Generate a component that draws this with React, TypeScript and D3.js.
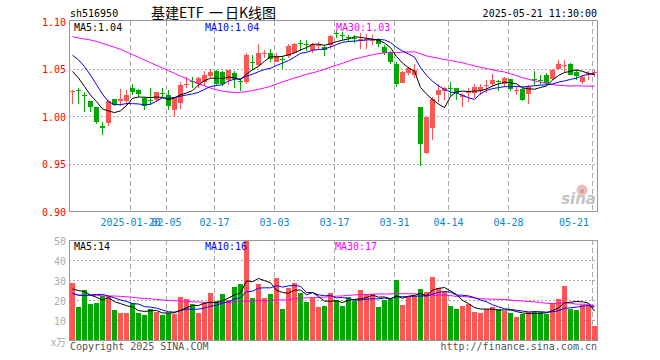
import { useEffect, useRef } from 'react';
import * as d3 from 'd3';

// 交易日 (2025)
const dates = [
  '01-06','01-07','01-08','01-09','01-10','01-13','01-14','01-15','01-16','01-17',
  '01-20','01-21','01-22','01-23','01-24','01-27','02-05','02-06','02-07','02-10',
  '02-11','02-12','02-13','02-14','02-17','02-18','02-19','02-20','02-21','02-24',
  '02-25','02-26','02-27','02-28','03-03','03-04','03-05','03-06','03-07','03-10',
  '03-11','03-12','03-13','03-14','03-17','03-18','03-19','03-20','03-21','03-24',
  '03-25','03-26','03-27','03-28','03-31','04-01','04-02','04-03','04-07','04-08',
  '04-09','04-10','04-11','04-14','04-15','04-16','04-17','04-18','04-21','04-22',
  '04-23','04-24','04-25','04-28','04-29','04-30','05-06','05-07','05-08','05-09',
  '05-12','05-13','05-14','05-15','05-16','05-19','05-20','05-21',
];

const open = [
  1.025,1.027,1.022,1.016,1.009,0.990,0.993,1.018,1.016,1.016,
  1.029,1.027,1.019,1.017,1.017,1.024,1.022,1.006,1.014,1.033,
  1.037,1.034,1.036,1.042,1.047,1.046,1.038,1.045,1.037,1.036,
  1.057,1.054,1.065,1.066,1.057,1.060,1.063,1.066,1.077,1.076,
  1.070,1.074,1.073,1.075,1.087,1.085,1.083,1.082,1.080,1.080,
  1.079,1.081,1.073,1.066,1.055,1.035,1.045,1.043,1.010,0.961,
  0.987,1.022,1.026,1.030,1.029,1.020,1.024,1.024,1.026,1.032,
  1.034,1.037,1.034,1.039,1.026,1.028,1.023,1.039,1.038,1.043,
  1.039,1.050,1.053,1.055,1.046,1.036,1.044,1.045,
];
const high = [
  1.027,1.030,1.025,1.016,1.009,0.994,1.017,1.018,1.028,1.027,
  1.034,1.028,1.020,1.029,1.025,1.029,1.027,1.020,1.036,1.041,
  1.041,1.041,1.047,1.050,1.048,1.047,1.048,1.047,1.040,1.066,
  1.064,1.076,1.069,1.071,1.066,1.063,1.076,1.077,1.080,1.080,
  1.077,1.078,1.075,1.085,1.090,1.088,1.085,1.085,1.087,1.086,
  1.085,1.082,1.075,1.068,1.057,1.047,1.052,1.055,1.010,0.999,
  1.020,1.034,1.031,1.036,1.029,1.024,1.029,1.034,1.034,1.038,
  1.044,1.038,1.041,1.039,1.031,1.029,1.033,1.047,1.043,1.045,
  1.049,1.059,1.059,1.056,1.048,1.043,1.047,1.048,
];
const low = [
  1.013,1.013,1.004,1.004,0.992,0.980,0.989,1.011,1.011,1.011,
  1.022,1.020,1.006,1.012,1.015,1.020,1.006,0.999,1.007,1.030,
  1.030,1.030,1.032,1.040,1.033,1.032,1.033,1.029,1.026,1.034,
  1.048,1.052,1.061,1.057,1.057,1.050,1.061,1.066,1.068,1.068,
  1.066,1.070,1.063,1.071,1.082,1.080,1.078,1.077,1.071,1.071,
  1.075,1.073,1.064,1.055,1.031,1.035,1.043,1.040,0.947,0.960,
  0.975,1.015,1.017,1.021,1.017,1.010,1.015,1.019,1.022,1.024,
  1.031,1.026,1.031,1.026,1.022,1.016,1.013,1.033,1.033,1.033,
  1.038,1.048,1.045,1.043,1.038,1.034,1.038,1.041,
];
const close = [
  1.026,1.026,1.021,1.009,0.994,0.987,1.016,1.012,1.018,1.022,
  1.025,1.023,1.011,1.016,1.025,1.023,1.011,1.020,1.033,1.034,
  1.036,1.040,1.043,1.046,1.034,1.034,1.048,1.039,1.036,1.064,
  1.056,1.066,1.066,1.060,1.063,1.059,1.074,1.076,1.076,1.075,
  1.076,1.075,1.070,1.084,1.086,1.084,1.082,1.081,1.081,1.081,
  1.080,1.076,1.066,1.057,1.034,1.046,1.051,1.048,0.971,0.999,
  1.018,1.027,1.029,1.029,1.024,1.022,1.025,1.031,1.031,1.033,
  1.038,1.036,1.040,1.028,1.027,1.017,1.031,1.038,1.037,1.035,
  1.048,1.055,1.054,1.043,1.042,1.041,1.045,1.046,
];
// 成交量 (万)
const volume = [
  28.7,16.4,25,18.1,18.6,22,22,14.9,13.5,13.5,
  18.4,13.5,12.4,15.4,14,12.4,13.4,12.9,21.5,20.5,
  17.9,13.5,18.6,23.6,19.6,23.1,20,26.5,28.2,50,
  21,28.2,21,23,31.2,15.4,26.2,28.7,23.6,19.1,
  21,16.4,16.9,23.6,20,16.9,21.6,19.6,25,23,
  23,16.6,20,20.5,30,17.4,21.6,22,25.5,24,
  31.6,26,24,16.9,15.4,16.9,17.9,13.9,13.4,15.4,
  16.4,15.4,14.5,13.4,11.4,12.9,13.9,14.4,13.9,12.9,
  18.4,20.5,27,15.6,14.9,17.4,17.4,6.8,
];

// 均线在窗口填满之前的值（更早的K线不在图内，按图读出）
const ma5Lead = [1.047, 1.040, 1.031, 1.022];
const ma10Lead = [1.064, 1.059, 1.052, 1.043, 1.033, 1.023, 1.015, 1.012, 1.012];
const ma30Lead = [
  1.0835,1.0821,1.0811,1.0800,1.0786,1.0765,1.0744,1.0723,1.0702,1.0674,
  1.0646,1.0618,1.0589,1.0561,1.0533,1.0505,1.0477,1.0449,1.0421,1.0393,
  1.0365,1.0340,1.0316,1.0295,1.0275,1.0262,1.0252,1.0248,1.0250,
];
const vma5Lead = [25.5, 24.7, 24.2, 22.5];
const vma10Lead = [23.3, 22.3, 22.3, 22.5, 22.8, 22.8, 22.0, 21.1, 20.0];
const vma30Lead = [
  23.3,22.5,22.3,22.3,22.3,22.1,22.0,22.0,21.8,21.6,
  21.3,21.0,20.8,20.6,20.3,20.0,19.8,19.6,19.5,19.3,
  19.1,19.0,18.8,18.8,18.6,18.6,18.8,19.0,19.1,
];

const priceTicks = [1.10, 1.05, 1.00, 0.95, 0.90];
const volTicks = [50, 40, 30, 20, 10];
const dateTicks = ['01-20','02-05','02-17','03-03','03-17','03-31','04-14','04-28','05-21'];

const RED = '#ff5555';
const GREEN = '#00a800';
const MONO = '"DejaVu Sans Mono", monospace';
const CJK = '"Noto Sans CJK SC", sans-serif';

function movingAvg(vals: number[], n: number, lead: number[]) {
  return vals.map((_, i) => (i < n - 1 ? lead[i] : (d3.mean(vals.slice(i - n + 1, i + 1)) as number)));
}

export default function App() {
  const svgRef = useRef<SVGSVGElement | null>(null);

  useEffect(() => {
    const svg = d3.select(svgRef.current);
    svg.selectAll('*').remove();

    const left = 69, right = 597;
    const mTop = 21, mBot = 211;
    const vTop = 240, vBot = 340;

    // 每根K线占 6px，柱宽 5px
    const x = d3.scaleBand<string>().domain(dates).range([70, 70 + dates.length * 6]);
    const bx = (d: string) => Math.round(x(d) as number);
    const y = d3.scaleLinear().domain([0.9, 1.1]).range([mBot, mTop]);
    const yv = d3.scaleLinear().domain([0, 50]).range([vBot, vTop]);

    svg.append('rect').attr('width', 660).attr('height', 360).attr('fill', '#fff');

    // ── 网格 ───────────────────────────────
    const grid = svg.append('g').attr('shape-rendering', 'crispEdges');
    priceTicks.slice(1, -1).forEach(t => {
      grid.append('line').attr('x1', left).attr('x2', right)
        .attr('y1', Math.round(y(t)) + 0.5).attr('y2', Math.round(y(t)) + 0.5)
        .attr('stroke', '#aaa').attr('stroke-dasharray', '2,2');
    });
    volTicks.slice(1).forEach(t => {
      grid.append('line').attr('x1', left).attr('x2', right)
        .attr('y1', Math.round(yv(t)) + 0.5).attr('y2', Math.round(yv(t)) + 0.5)
        .attr('stroke', '#aaa').attr('stroke-dasharray', '2,2');
    });
    dateTicks.forEach(d => {
      const gx = bx(d) + 0.5;
      [[mTop, mBot], [vTop, vBot]].forEach(([a, b]) => {
        grid.append('line').attr('x1', gx).attr('x2', gx).attr('y1', a).attr('y2', b)
          .attr('stroke', '#aaa').attr('stroke-dasharray', '5,3');
      });
    });

    // 水印
    svg.append('circle').attr('cx', 582).attr('cy', 190).attr('r', 5.5).attr('fill', '#f6b8b8');
    svg.append('circle').attr('cx', 582).attr('cy', 191).attr('r', 2.2).attr('fill', '#b0b0b0');
    svg.append('text').attr('x', 596).attr('y', 204).attr('text-anchor', 'end')
      .attr('font-family', 'Verdana, "DejaVu Sans", sans-serif').attr('font-size', 15)
      .attr('font-weight', 700).attr('font-style', 'italic').attr('fill', '#c4c4c4').text('sina');

    // ── K线 ───────────────────────────────
    const candles = svg.append('g').attr('shape-rendering', 'crispEdges');
    dates.forEach((d, i) => {
      const x0 = bx(d);
      const col = close[i] >= open[i] ? RED : GREEN;
      candles.append('line').attr('x1', x0 + 2.5).attr('x2', x0 + 2.5)
        .attr('y1', y(high[i])).attr('y2', y(low[i])).attr('stroke', col);
      const top = Math.round(y(Math.max(open[i], close[i])));
      const bot = Math.round(y(Math.min(open[i], close[i])));
      candles.append('rect').attr('x', x0).attr('width', 5)
        .attr('y', top).attr('height', Math.max(1, bot - top)).attr('fill', col);
    });

    // ── 成交量 ─────────────────────────────
    const vols = svg.append('g').attr('shape-rendering', 'crispEdges');
    dates.forEach((d, i) => {
      const top = Math.round(yv(volume[i]));
      vols.append('rect').attr('x', bx(d)).attr('width', 5)
        .attr('y', top).attr('height', vBot - top)
        .attr('fill', close[i] >= open[i] ? RED : GREEN);
    });

    // ── 均线 ──────────────────────────────
    const maDefs: [number, number[], number[], string][] = [
      [30, ma30Lead, vma30Lead, '#ff00ff'],
      [10, ma10Lead, vma10Lead, '#0000ff'],
      [5, ma5Lead, vma5Lead, '#000000'],
    ];
    const priceMA: Record<number, number[]> = {};
    const volMA: Record<number, number[]> = {};
    const lx = (i: number) => bx(dates[i]) + 2.5;
    maDefs.forEach(([n, lead, vlead, col]) => {
      const pm = movingAvg(close, n, lead);
      const vm = movingAvg(volume, n, vlead);
      priceMA[n] = pm; volMA[n] = vm;
      const lp = d3.line<number>().x((_, i) => lx(i)).y(v => y(v));
      const lv = d3.line<number>().x((_, i) => lx(i)).y(v => yv(v));
      svg.append('path').attr('d', lp(pm)).attr('fill', 'none').attr('stroke', col).attr('stroke-width', 1);
      svg.append('path').attr('d', lv(vm)).attr('fill', 'none').attr('stroke', col).attr('stroke-width', 1);
    });

    // ── 边框 ──────────────────────────────
    const frame = svg.append('g').attr('shape-rendering', 'crispEdges').attr('fill', 'none').attr('stroke', '#999');
    frame.append('rect').attr('x', left + 0.5).attr('y', mTop - 0.5).attr('width', right - left).attr('height', mBot - mTop + 1);
    frame.append('rect').attr('x', left + 0.5).attr('y', vTop + 0.5).attr('width', right - left).attr('height', vBot - vTop);

    // ── 文字 ──────────────────────────────
    const txt = (xx: number, yy: number, s: string, fill: string, anchor = 'start', size = 10, family = MONO) =>
      svg.append('text').attr('x', xx).attr('y', yy).attr('dominant-baseline', 'central')
        .attr('text-anchor', anchor).attr('font-family', family).attr('font-size', size)
        .attr('fill', fill).text(s);

    txt(70, 13, 'sh516950', '#000');
    // 标题：基建ETF 一 日K线图
    txt(151, 12, '基建ETF', '#000', 'start', 14, CJK);
    txt(209, 12, '一', '#000', 'start', 14, CJK);
    txt(225, 12, '日K线图', '#000', 'start', 14, CJK);
    txt(right, 13, '2025-05-21 11:30:00', '#000', 'end');

    priceTicks.forEach(t => txt(66, y(t) + 1, t.toFixed(2), '#ff0000', 'end'));
    volTicks.forEach(t => txt(66, yv(t) + 1, String(t), '#aaa', 'end'));
    txt(66, 341, 'x万', '#aaa', 'end', 10, CJK);

    dateTicks.forEach((d, k) => {
      const gx = bx(d) + 0.5;
      if (k === dateTicks.length - 1) txt(589, 222, d, '#0a84d6', 'end');
      else txt(gx, 222, k === 0 ? `2025-${d}` : d, '#0a84d6', 'middle');
    });

    const last = dates.length - 1;
    txt(74, 27, `MA5:${priceMA[5][last].toFixed(2)}`, '#000');
    txt(205, 27, `MA10:${priceMA[10][last].toFixed(2)}`, '#0000ff');
    txt(336, 27, `MA30:${priceMA[30][last].toFixed(2)}`, '#ff00ff');
    txt(74, 246, `MA5:${Math.round(volMA[5][last])}`, '#000');
    txt(205, 246, `MA10:${Math.round(volMA[10][last])}`, '#0000ff');
    txt(335, 246, `MA30:${Math.round(volMA[30][last])}`, '#ff00ff');

    txt(70, 346, 'Copyright 2025 SINA.COM', '#555');
    txt(right, 346, 'http://finance.sina.com.cn', '#555', 'end');
  }, []);

  return (
    <svg ref={svgRef} width={660} height={360}
      style={{ position: 'absolute', left: 0, top: 0, display: 'block' }} />
  );
}
